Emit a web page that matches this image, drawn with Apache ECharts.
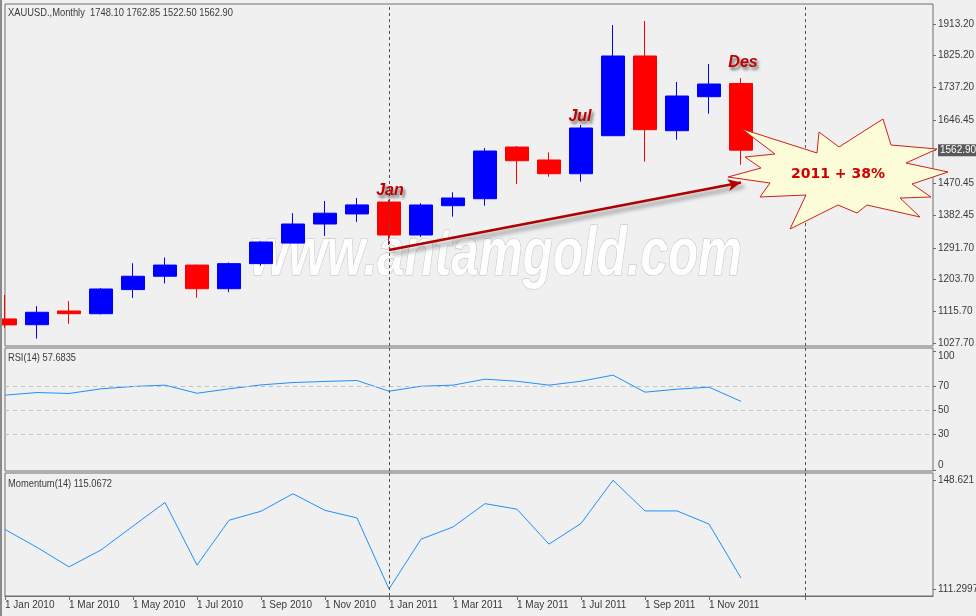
<!DOCTYPE html>
<html><head><meta charset="utf-8">
<script src="https://cdn.jsdelivr.net/npm/echarts@6/dist/echarts.min.js"></script>
<style>html,body{margin:0;padding:0;background:#f0f0f0}#c{width:976px;height:616px}</style>
</head><body><div id="c"></div>
<script>
// ---------------- DATA ----------------
const categories = [
 '1 Jan 2010','1 Feb 2010','1 Mar 2010','1 Apr 2010','1 May 2010','1 Jun 2010','1 Jul 2010','1 Aug 2010','1 Sep 2010','1 Oct 2010','1 Nov 2010','1 Dec 2010',
 '1 Jan 2011','1 Feb 2011','1 Mar 2011','1 Apr 2011','1 May 2011','1 Jun 2011','1 Jul 2011','1 Aug 2011','1 Sep 2011','1 Oct 2011','1 Nov 2011','1 Dec 2011',
 '1 Jan 2012','1 Feb 2012','1 Mar 2012','1 Apr 2012','1 May 2012','1 Jun 2012'
];
const openP  = [1094.5,1078.5,1116.5,1109.0,1176.0,1213.0,1244.0,1178.4,1248.0,1305.0,1358.0,1386.0,1419.0,1327.5,1408.8,1428.2,1571.7,1535.7,1497.6,1603.1,1824.4,1617.0,1711.4,1748.10];
const highP  = [1161.0,1130.0,1144.0,1180.0,1249.0,1265.0,1245.0,1251.0,1310.0,1388.0,1422.0,1430.0,1425.0,1416.0,1446.0,1569.0,1574.5,1556.9,1632.8,1910.4,1921.5,1752.2,1802.2,1762.85];
const lowP   = [1070.0,1040.0,1081.0,1107.0,1153.0,1193.0,1153.4,1169.0,1242.0,1305.0,1325.0,1364.0,1300.0,1322.0,1378.3,1408.8,1468.8,1489.3,1475.4,1603.1,1531.0,1592.0,1664.2,1522.50];
const closeP = [1078.0,1113.0,1109.0,1177.6,1213.0,1244.0,1178.4,1248.0,1308.0,1358.0,1388.0,1411.0,1327.5,1410.8,1430.2,1560.6,1533.7,1497.6,1624.5,1824.4,1619.8,1713.3,1746.6,1562.90];
const rsiValues = [62.9,65.1,64.3,68.2,70.2,71.3,64.5,68.2,71.5,73.5,74.4,75.2,66.2,70.4,71.3,76.3,74.6,71.3,74.6,79.7,65.4,67.9,69.6,57.6835];
const momValues = [131.74,125.6,118.9,124.7,132.9,141.0,119.5,134.9,138.0,144.0,138.3,135.7,111.2997,128.4,132.6,140.6,138.7,126.7,133.8,148.621,138.1,138.1,133.6,115.0672];
const priceTicks = [1027.70,1115.70,1203.70,1291.70,1382.45,1470.45,1646.45,1737.20,1825.20,1913.20];
const rsiTicks = [0,30,50,70,100];
const rsiLevels = [30,50,70];
const momTicks = [111.2997,148.621];
const separatorIdx = [12,25];
const annotIdx = [12,18,23];
const annotText = ['Jan','Jul','Des'];
const symbolName = 'XAUUSD.,Monthly';
const calloutText = '2011 + 38%';
const watermarkText = 'www.antamgold.com';

// ---------------- CHART ----------------
const chart = echarts.init(document.getElementById('c'), null, {renderer:'canvas'});
const FONT = "'Liberation Sans',Arial,sans-serif";
const AX = '#6f6f6f', TXT = '#3a3a3a';
const last = openP.length - 1;
const candles = openP.map((o,i)=>[o, closeP[i], lowP[i], highP[i]]);

function measure(text, font){ const c=document.createElement('canvas').getContext('2d'); c.font=font; return c.measureText(text).width; }

const gridCommon = {left:5, right:43, containLabel:false, outerBoundsMode:'none', show:true, borderColor:AX, borderWidth:1, backgroundColor:'transparent'};
const xCommon = {type:'category', data:categories, boundaryGap:false,
  axisLine:{show:false}, axisTick:{show:false}, axisLabel:{show:false}, splitLine:{show:false}};
const yLabel = {fontFamily:FONT, fontSize:10, color:TXT, margin:5};
const yTick = {show:true, length:3, lineStyle:{color:AX}};
const rsiMin = -0.84, rsiMax = 102.52;

const sepLine = {symbol:'none', silent:true, label:{show:false},
  lineStyle:{color:'#555', width:1, type:[3,3]},
  data: separatorIdx.map(i=>({xAxis:categories[i]}))};

const option = {
  animation:false,
  backgroundColor:'#f0f0f0',
  grid:[
    Object.assign({top:4, height:342}, gridCommon),
    Object.assign({top:348, height:123}, gridCommon),
    Object.assign({top:473, height:123}, gridCommon)
  ],
  xAxis:[
    Object.assign({gridIndex:0}, xCommon),
    Object.assign({gridIndex:1}, xCommon),
    Object.assign({}, xCommon, {gridIndex:2,
      axisLine:{show:true, lineStyle:{color:AX}},
      axisTick:{show:true, length:4, lineStyle:{color:AX},
        interval:(i)=> (i%2===0 && i<=last-1) || i===separatorIdx[1]},
      axisLabel:{show:true, fontFamily:FONT, fontSize:10, color:TXT, align:'left', margin:4, hideOverlap:false,
        interval:(i)=> i%2===0 && i<=last-1}
    })
  ],
  yAxis:[
    {gridIndex:0, type:'value', position:'right', min:1019.37, max:1968.72, scale:true,
      axisLine:{show:false}, splitLine:{show:false},
      axisTick:Object.assign({customValues:priceTicks.concat([closeP[last]])}, yTick),
      axisLabel:Object.assign({customValues:priceTicks.concat([closeP[last]]),
        formatter:(v)=> Math.abs(v-closeP[last])<0.001 ? '{p|'+v.toFixed(2)+'}' : v.toFixed(2),
        rich:{p:{backgroundColor:'#5a5a5a', color:'#ffffff', fontFamily:FONT, fontSize:10, padding:[1,3,1,2]}}
      }, yLabel)},
    // RSI: middle levels
    {gridIndex:1, type:'value', position:'right', min:rsiMin, max:rsiMax,
      axisLine:{show:false}, splitLine:{show:false},
      axisTick:Object.assign({customValues:rsiTicks}, yTick),
      axisLabel:Object.assign({customValues:rsiLevels, formatter:(v)=>String(v)}, yLabel)},
    // RSI: top label (100)
    {gridIndex:1, type:'value', position:'right', min:rsiMin, max:rsiMax,
      axisLine:{show:false}, splitLine:{show:false}, axisTick:{show:false},
      axisLabel:Object.assign({customValues:[rsiTicks[rsiTicks.length-1]], verticalAlign:'top', formatter:(v)=>String(v)}, yLabel)},
    // RSI: bottom label (0)
    {gridIndex:1, type:'value', position:'right', min:rsiMin, max:rsiMax,
      axisLine:{show:false}, splitLine:{show:false}, axisTick:{show:false},
      axisLabel:Object.assign({customValues:[rsiTicks[0]], verticalAlign:'bottom', formatter:(v)=>String(v)}, yLabel)},
    {gridIndex:2, type:'value', position:'right', min:108.90, max:151.12,
      axisLine:{show:false}, splitLine:{show:false},
      axisTick:Object.assign({customValues:momTicks}, yTick),
      axisLabel:Object.assign({customValues:momTicks, formatter:(v)=>String(v)}, yLabel)}
  ],
  series:[
    {type:'candlestick', xAxisIndex:0, yAxisIndex:0, data:candles, barWidth:24, z:3,
      itemStyle:{color:'#0000ff', color0:'#ff0000', borderColor:'#0000ff', borderColor0:'#ff0000', borderWidth:1},
      markLine:sepLine,
      markPoint:{symbol:'circle', symbolSize:1, itemStyle:{color:'rgba(0,0,0,0)'},
        data: annotIdx.map((idx,k)=>({name:annotText[k], coord:[categories[idx], highP[idx]],
          label:{offset:[k===2?2:(k===1?-1:1), k===2?-4:(k===1?3:2)]}})),
        label:{show:true, position:'top', distance:3, formatter:'{b}',
          fontFamily:"'Liberation Sans',Arial,sans-serif", fontSize:16, fontWeight:'bold', fontStyle:'italic',
          color:'#c00000', textShadowColor:'rgba(0,0,0,0.55)', textShadowBlur:3, textShadowOffsetX:2, textShadowOffsetY:3}
      }
    },
    {type:'line', xAxisIndex:0, yAxisIndex:0, data:[], z:4, silent:true,
      markLine:{silent:true, symbol:['none','arrow'], symbolSize:[9,13], label:{show:false},
        lineStyle:{color:'#b00000', width:2.5, type:'solid', shadowColor:'rgba(0,0,0,0.45)', shadowBlur:4, shadowOffsetX:3, shadowOffsetY:4},
        data:[[{coord:[categories[annotIdx[0]], 1286]}, {coord:[categories[last], 1473]}]]}
    },
    {type:'line', xAxisIndex:1, yAxisIndex:1, data:rsiValues, symbol:'none', z:3,
      lineStyle:{color:'#1e90ff', width:1},
      markLine:{symbol:'none', silent:true, label:{show:false}, lineStyle:{color:'#c0c0c0', width:1, type:[4,4]},
        data: rsiLevels.map(v=>({yAxis:v})).concat(separatorIdx.map(i=>({xAxis:categories[i], lineStyle:{color:'#555', type:[3,3]}})))}
    },
    {type:'line', xAxisIndex:2, yAxisIndex:4, data:momValues, symbol:'none', z:3,
      lineStyle:{color:'#1e90ff', width:1}, markLine:sepLine}
  ],
  graphic:[]
};
chart.setOption(option);

// ---- overlay annotations (text & decorations) ----
function fitText(text, x, y, width, z){
  const f = "11px 'Liberation Sans',Arial,sans-serif";
  const w = measure(text, f);
  return {type:'group', x:x, y:y, scaleX:width/w, z:z, silent:true, children:[
    {type:'text', style:{text:text, x:0, y:0, verticalAlign:'middle', font:f, fill:TXT}}]};
}
const wmFont = "italic bold 60px 'Liberation Sans',Arial,sans-serif";
const wmW = measure(watermarkText, wmFont);
const star = [[742,129],[775,154],[745,157],[761,168],[728,177],[770,183],[760,197],[806,195],[790,229],[838,205],[857,213],[867,205],[920,217],[900,198],[931,197],[912,184],[948,172],[906,163],[937,149],[891,145],[883,119],[839,147],[819,132],[817,153]];
const headerText = symbolName+'  '+[openP[last],highP[last],lowP[last],closeP[last]].map(v=>v.toFixed(2)).join(' ');
chart.setOption({graphic:[
  {type:'rect', z:70, silent:true, shape:{x:0, y:0, width:2, height:616}, style:{fill:'#8a8a8a'}},
  {type:'group', x:496, y:256, scaleX:492/wmW, scaleY:1.15, z:1, silent:true, children:[
    {type:'text', style:{text:watermarkText, font:wmFont, x:0, y:0, align:'center', verticalAlign:'middle',
      fill:'rgba(255,255,255,0.93)', stroke:'rgba(150,150,150,0.55)', lineWidth:1,
      shadowColor:'rgba(0,0,0,0.45)', shadowBlur:4, shadowOffsetX:3, shadowOffsetY:3}}
  ]},
  fitText(headerText, 8, 13, 225, 50),
  fitText('RSI(14) '+rsiValues[last], 8, 358, 68, 50),
  fitText('Momentum(14) '+momValues[last], 8, 484, 104, 50),
  {type:'polygon', z:60, silent:true, shape:{points:star}, style:{fill:'#fcfcd8', stroke:'#d02020', lineWidth:1}},
  {type:'text', z:61, silent:true, style:{text:calloutText, x:838, y:174, align:'center', verticalAlign:'middle',
    font:"bold 14px 'DejaVu Sans',Verdana,sans-serif", fill:'#d00000'}}
]});
</script></body></html>
